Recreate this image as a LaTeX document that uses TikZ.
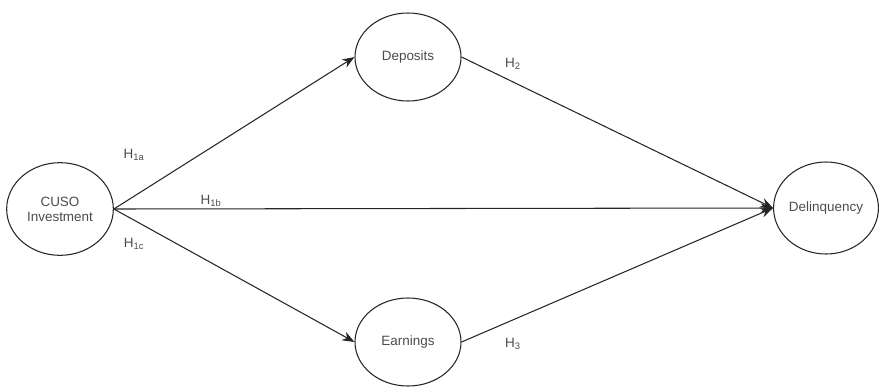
\documentclass[tikz,border=0pt]{standalone}
\usepackage{fontspec}
\setmainfont{Liberation Sans}
\usetikzlibrary{shapes.geometric,arrows.meta}

\begin{document}
\begin{tikzpicture}[
        x=0.03cm, y=-0.03cm,
        every node/.style={font=\fontsize{11.5}{13}\selectfont, text=black!70},
        constructo/.style={draw=black!85, ellipse, line width=0.9pt, align=center, inner sep=0pt},
        hipotesis/.style={font=\fontsize{11.5}{13}\selectfont, text=black!70},
        flecha/.style={draw=black!85, line width=0.9pt, -{Stealth[length=10.5pt,width=8pt]}}
    ]
    \useasboundingbox (0,0) rectangle (879,386);

    % Constructos
    \node[constructo, minimum width=3.2cm, minimum height=2.78cm] (cuso) at (60,209) {CUSO\\Investment};
    \node[constructo, minimum width=3.18cm, minimum height=2.64cm] (deposits) at (408,57) {Deposits};
    \node[constructo, minimum width=3.18cm, minimum height=2.64cm] (earnings) at (408,342) {Earnings};
    \node[constructo, minimum width=3.02cm, minimum height=2.76cm] (delinq) at (826,208) {Delinquency};

    % Hipotesis
    \node[hipotesis] (h1a) at (134,155) {H\textsubscript{1a}};
    \node[hipotesis] (h1b) at (211,201) {H\textsubscript{1b}};
    \node[hipotesis] (h1c) at (134,244) {H\textsubscript{1c}};
    \node[hipotesis] (h2) at (513,64) {H\textsubscript{2}};
    \node[hipotesis] (h3) at (513,344) {H\textsubscript{3}};

    % Aristas
    \draw[flecha] (cuso.east) to (deposits.west);
    \draw[flecha] (cuso.east) to (delinq.west);
    \draw[flecha] (cuso.east) to (earnings.west);
    \draw[flecha] (deposits.east) to (delinq.west);
    \draw[flecha] (earnings.east) to (delinq.west);
\end{tikzpicture}
\end{document}
